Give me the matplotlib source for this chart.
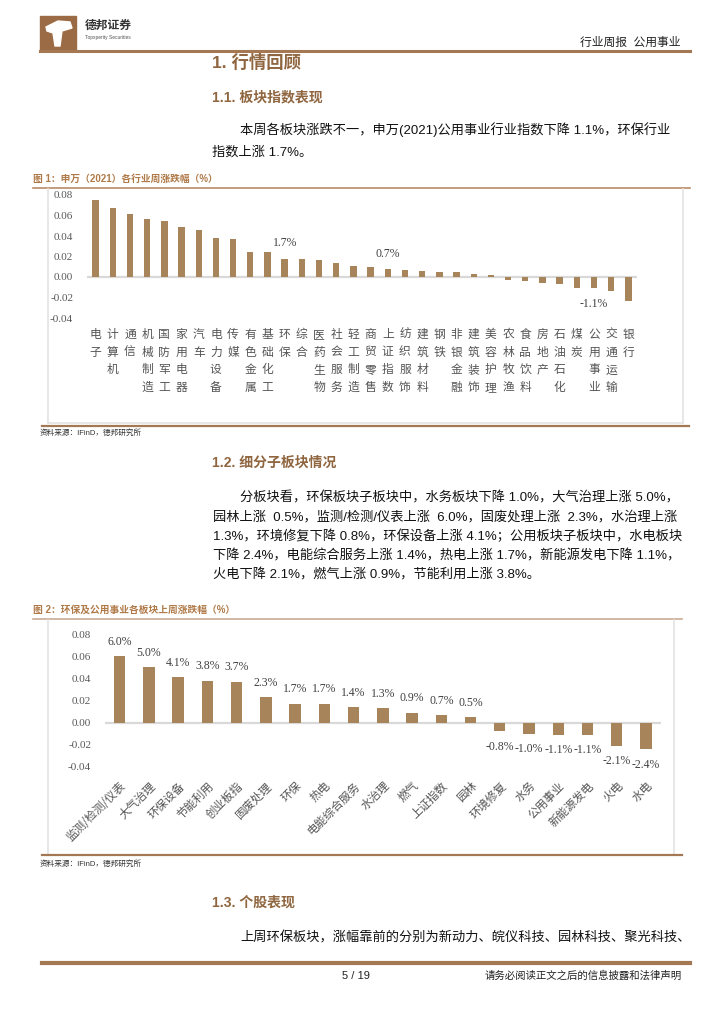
import matplotlib
matplotlib.use('Agg')
import matplotlib.pyplot as plt
from matplotlib.lines import Line2D
from matplotlib.patches import Rectangle, Polygon

plt.rcParams['font.family'] = ['Noto Sans CJK SC', 'DejaVu Sans']
plt.rcParams['axes.unicode_minus'] = False

# 图1：申万（2021）各行业周涨跌幅
industries = ['电子', '计算机', '通信', '机械制造', '国防军工', '家用电器', '汽车', '电力设备',
              '传媒', '有色金属', '基础化工', '环保', '综合', '医药生物', '社会服务', '轻工制造',
              '商贸零售', '上证指数', '纺织服饰', '建筑材料', '钢铁', '非银金融', '建筑装饰',
              '美容护理', '农林牧渔', '食品饮料', '房地产', '石油石化', '煤炭', '公用事业',
              '交通运输', '银行']
industryChanges = [0.0748, 0.0670, 0.0612, 0.0566, 0.0546, 0.0485, 0.0459, 0.0380,
                   0.0370, 0.0247, 0.0247, 0.0175, 0.0174, 0.0170, 0.0137, 0.0107,
                   0.0094, 0.0075, 0.0065, 0.0059, 0.0052, 0.0049, 0.0033,
                   0.0022, -0.0026, -0.0039, -0.0062, -0.0065, -0.0104, -0.0110,
                   -0.0133, -0.0237]
industryNotes = {'环保': '1.7%', '上证指数': '0.7%', '公用事业': '-1.1%'}

# 图2：环保及公用事业各板块上周涨跌幅
sectors = ['监测/检测/仪表', '大气治理', '环保设备', '节能利用', '创业板指', '固废处理', '环保',
           '热电', '电能综合服务', '水治理', '燃气', '上证指数', '园林', '环境修复', '水务',
           '公用事业', '新能源发电', '火电', '水电']
sectorChanges = [0.060, 0.050, 0.041, 0.038, 0.037, 0.023, 0.017, 0.017, 0.014, 0.013,
                 0.009, 0.007, 0.005, -0.008, -0.010, -0.011, -0.011, -0.021, -0.024]

yTicks = [-0.04, -0.02, 0.00, 0.02, 0.04, 0.06, 0.08]

W, H = 724, 1024
BAR = '#a8845a'
BROWN = '#a37853'
HEAD = '#8f6640'
TITLE = '#b07a48'
FRAME = '#e3e3e3'
SERIF = ['Liberation Serif', 'DejaVu Serif']
SANS = ['Liberation Sans', 'Noto Sans CJK SC']

fig = plt.figure(figsize=(W / 100, H / 100), dpi=100)


def px(x):
    return x / W


def py(y):
    return 1 - y / H


def hline(x0, x1, y, color, lw):
    fig.add_artist(Line2D([px(x0), px(x1)], [py(y), py(y)], color=color, lw=lw,
                          transform=fig.transFigure))


def vline(x, y0, y1, color, lw):
    fig.add_artist(Line2D([px(x), px(x)], [py(y0), py(y1)], color=color, lw=lw,
                          transform=fig.transFigure))


def text(x, y, s, size, color='#111111', ha='left', weight='normal', family=None):
    fig.text(px(x), py(y), s, fontsize=size, color=color, ha=ha, va='center',
             fontweight=weight, family=family or SANS)


# header
fig.add_artist(Rectangle((px(40), py(50)), 36 / W, 34 / H, color='#9b6b45',
                         transform=fig.transFigure))
fig.add_artist(Polygon([(px(46), py(27)), (px(58), py(21)), (px(70), py(22)), (px(72), py(28)),
                        (px(62), py(31)), (px(60), py(46)), (px(55), py(46)), (px(53), py(33)),
                        (px(47), py(31))], color='white', transform=fig.transFigure))
text(85, 26, '德邦证券', 8.5, '#333333', weight='bold')
text(85, 38, 'Topsperity Securities', 3.5, '#555555')
text(681, 43, '行业周报  公用事业', 8.5, '#222222', ha='right')
hline(40, 690, 51, BROWN, 2.2)

text(212, 62, '1. 行情回顾', 12.5, HEAD, weight='bold')
text(212, 97, '1.1. 板块指数表现', 10, HEAD, weight='bold')
text(240, 130, '本周各板块涨跌不一，申万(2021)公用事业行业指数下降 1.1%，环保行业', 9.5)
text(212, 152, '指数上涨 1.7%。', 9.5)

# chart 1
text(33, 179, '图 1：申万（2021）各行业周涨跌幅（%）', 7, TITLE, weight='bold')
hline(33, 690, 188, '#b98b66', 1.2)
vline(48, 189, 423, FRAME, 1.2)
vline(683, 189, 423, FRAME, 1.2)
hline(48, 683, 423, FRAME, 1.2)
hline(42, 689, 426, BROWN, 1.6)
text(40, 433, '资料来源：IFinD，德邦研究所', 5.5, '#333333')

ax1 = fig.add_axes([px(87), py(318), 550 / W, 123 / H])
pos1 = list(range(len(industries)))
ax1.bar(pos1, industryChanges, width=0.37, color=BAR, zorder=2)
ax1.axhline(0, color='#d9d9d9', lw=1.6, zorder=1)
ax1.set_xlim(-0.5, len(industries) - 0.5)
ax1.set_ylim(-0.04, 0.08)
ax1.set_yticks(yTicks)
ax1.set_yticklabels(['%.2f' % t for t in yTicks], family=SERIF, fontsize=8, color='#595959')
ax1.set_xticks(pos1)
ax1.set_xticklabels(['\n'.join(n) for n in industries], fontsize=8.5, color='#555555',
                    linespacing=1.48)
ax1.tick_params(length=0)
ax1.tick_params(axis='y', pad=10)
ax1.tick_params(axis='x', pad=7)
for s in ax1.spines.values():
    s.set_visible(False)
for i, name in enumerate(industries):
    if name in industryNotes:
        v = industryChanges[i]
        ax1.annotate(industryNotes[name], (i, v), xytext=(0, 7 if v > 0 else -7),
                     textcoords='offset points', ha='center', va='bottom' if v > 0 else 'top',
                     family=SERIF, fontsize=8.5, color='#404040')

# section 1.2
text(212, 463, '1.2. 细分子板块情况', 10, HEAD, weight='bold')
para = ['分板块看，环保板块子板块中，水务板块下降 1.0%，大气治理上涨 5.0%，',
        '园林上涨  0.5%，监测/检测/仪表上涨  6.0%，固废处理上涨  2.3%，水治理上涨',
        '1.3%，环境修复下降 0.8%，环保设备上涨 4.1%；公用板块子板块中，水电板块',
        '下降 2.4%，电能综合服务上涨 1.4%，热电上涨 1.7%，新能源发电下降 1.1%，',
        '火电下降 2.1%，燃气上涨 0.9%，节能利用上涨 3.8%。']
for k, line in enumerate(para):
    text(240 if k == 0 else 213, 498 + k * 19.3, line, 9.5)

# chart 2
text(33, 610, '图 2：环保及公用事业各板块上周涨跌幅（%）', 7, TITLE, weight='bold')
hline(33, 682, 619, '#c9ab95', 1.2)
vline(48, 620, 854, FRAME, 1.2)
vline(674, 620, 854, FRAME, 1.2)
hline(42, 682, 855, BROWN, 1.6)
text(40, 864, '资料来源：IFinD，德邦研究所', 5.5, '#333333')

ax2 = fig.add_axes([px(105), py(766.7), 555.6 / W, 132.4 / H])
pos2 = list(range(len(sectors)))
ax2.bar(pos2, sectorChanges, width=0.39, color=BAR, zorder=2)
ax2.axhline(0, color='#d9d9d9', lw=1.6, zorder=1)
ax2.set_xlim(-0.5, len(sectors) - 0.5)
ax2.set_ylim(-0.04, 0.08)
ax2.set_yticks(yTicks)
ax2.set_yticklabels(['%.2f' % t for t in yTicks], family=SERIF, fontsize=8, color='#595959')
ax2.set_xticks(pos2)
ax2.set_xticklabels(sectors, fontsize=8.3, color='#555555', rotation=45, ha='right',
                    rotation_mode='anchor')
ax2.tick_params(length=0)
ax2.tick_params(axis='y', pad=10)
ax2.tick_params(axis='x', pad=9)
for s in ax2.spines.values():
    s.set_visible(False)
for i, v in enumerate(sectorChanges):
    ax2.annotate('%.1f%%' % (v * 100), (i, v), xytext=(0, 6 if v > 0 else -7),
                 textcoords='offset points', ha='center', va='bottom' if v > 0 else 'top',
                 family=SERIF, fontsize=8.5, color='#404040')

# section 1.3 and footer
text(212, 903, '1.3. 个股表现', 10, HEAD, weight='bold')
text(240, 938, '上周环保板块，涨幅靠前的分别为新动力、皖仪科技、园林科技、聚光科技、', 9.5)
hline(42, 690, 963, BROWN, 3)
text(356, 976, '5 / 19', 8, '#222222', ha='center')
text(682, 976, '请务必阅读正文之后的信息披露和法律声明', 7.5, '#222222', ha='right')

fig.savefig('out.png', dpi=100)
